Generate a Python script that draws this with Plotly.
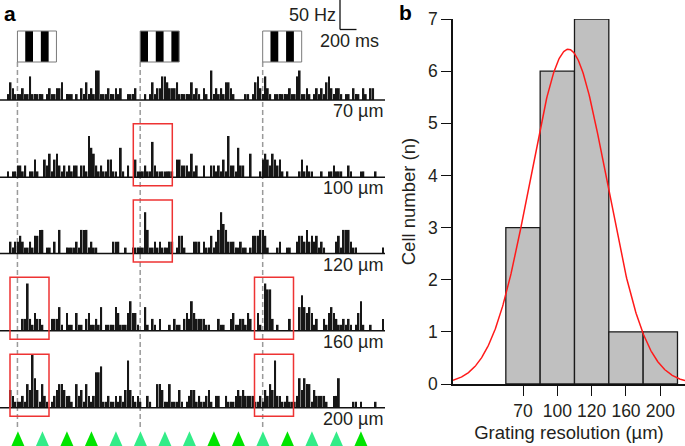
import numpy as np
import plotly.graph_objects as go

W, H = 685, 446

# ---------------- Panel a data: spike counts per time bin (1 count = 10 Hz) ----------------
r70 = [0,0,1,3,2,1,1,1,2,1, 1,4,1,1,1,1,1,0,1,2, 1,1,2,2,3,0,1,1,1,0, 1,0,2,1,3,1,2,1,5,5,
       1,1,1,2,1,1,2,1,2,0, 0,1,1,1,2,0,0,0,1,0, 1,3,1,2,2,4,4,3,2,2, 2,3,1,1,1,1,1,3,1,2,
       1,0,2,1,0,5,1,2,1,2, 1,3,3,2,1,0,0,0,0,1, 1,0,1,3,4,2,1,4,2,1, 0,1,1,1,1,1,1,2,1,1,
       4,5,1,1,2,1,0,1,2,1, 2,1,3,4,2,1,2,2,1,0, 1,1,0,2,1,1,0,2,1,0, 2,2,0,0,0,0,0]
r100 = [0,0,1,0,1,1,2,2,1,2, 0,1,1,3,1,0,0,3,2,4, 1,3,4,2,1,2,1,2,1,2, 2,0,2,2,1,7,5,4,2,1,
        2,1,1,3,3,1,1,0,5,1, 0,2,0,0,3,1,1,1,2,1, 1,6,2,1,1,1,1,1,1,1, 0,3,3,2,2,2,1,4,1,2,
        0,0,2,0,0,2,2,1,2,1, 3,1,7,2,2,1,5,2,2,0, 0,4,0,0,0,1,3,4,3,2, 4,3,2,3,1,0,1,0,0,0,
        0,1,3,1,2,1,1,0,0,0, 1,0,0,1,1,2,1,1,1,0, 0,2,1,0,0,0,1,1,0,0, 0,0,1,0,0,0,0]
r120 = [0,0,0,2,1,2,2,3,2,1, 1,2,1,3,3,4,4,0,1,1, 0,2,0,4,0,0,1,1,1,1, 2,1,4,4,4,1,2,1,1,0,
        0,0,0,0,0,2,2,2,0,0, 1,0,0,1,1,1,1,1,7,4, 1,1,2,1,2,1,1,1,2,2, 0,1,3,3,1,0,0,0,2,2,
        2,0,2,1,1,3,1,2,4,7, 5,4,2,2,2,1,1,2,1,1, 0,1,3,3,3,4,4,3,1,0, 0,0,1,2,0,0,1,1,0,0,
        2,3,3,2,4,2,3,2,3,1, 2,1,0,0,0,0,2,3,1,4, 4,4,2,1,1,0,0,0,0,0, 0,0,0,0,0,1,0]
r160 = [0,0,0,0,0,0,0,0,2,2, 8,2,1,3,2,2,1,0,0,0, 2,2,2,4,1,0,3,1,1,0, 3,1,1,0,2,3,1,1,2,1,
        4,0,1,1,1,1,4,3,1,1, 1,3,5,3,3,1,0,0,4,1, 0,2,1,0,2,0,0,0,1,0, 2,1,1,0,2,3,2,5,3,2,
        2,2,2,1,1,0,0,0,2,1, 1,0,0,2,3,1,1,2,2,1, 3,2,0,0,3,1,0,8,7,7, 2,0,1,0,0,0,0,2,0,0,
        0,4,6,4,3,4,3,1,2,0, 0,2,1,3,4,3,2,1,1,2, 1,2,1,0,1,3,5,1,0,0, 1,0,0,0,0,2,0]
r200 = [0,0,0,3,2,1,1,1,2,1, 4,3,9,5,3,1,4,2,1,0, 1,2,3,4,4,3,2,2,1,0, 4,2,3,1,4,2,1,2,6,6,
        7,1,1,2,1,1,2,1,2,1, 3,8,3,2,1,2,1,0,0,2, 1,0,0,4,4,3,1,1,4,1, 1,1,3,1,0,1,2,3,3,1,
        2,1,1,2,3,1,0,2,2,0, 0,2,1,1,1,2,3,2,3,2, 2,2,2,1,1,2,1,3,2,4, 3,8,2,2,1,1,2,1,1,1,
        2,5,3,5,4,4,1,3,2,2, 2,2,1,0,0,2,2,5,0,0, 0,0,0,1,1,0,1,0,0,0, 0,0,1,0,0,0,0]
rows = [r70, r100, r120, r160, r200]
row_labels = ["70 µm", "100 µm", "120 µm", "160 µm", "200 µm"]
HZ_PER_COUNT = 10

grating_onsets = [5.8, 55.9, 105.9]          # time bins of grating onsets
grating_first_black = [False, True, False]   # stripe phase of each grating icon
flash_times = [6, 16, 26, 36, 46, 56, 66, 76, 86, 96, 106, 116, 126, 136, 146]
flash_bright = [1, 0, 1, 1, 0, 0, 0, 0, 1, 1, 0, 1, 0, 0, 1]

# ---------------- Panel b data ----------------
res_labels = ["70", "100", "120", "160", "200"]
cell_counts = [3, 6, 7, 1, 1]
fit_amp, fit_mu, fit_sigma = 6.42, 2.32, 1.12   # Gaussian fit (bin-index units)

# ---------------- layout helpers (pixels -> paper) ----------------
def px(x):
    return x / W

def py(y):
    return 1 - y / H

BIN_PX = 2.45          # pixel width of one time bin
X0_PX = 3.225          # pixel centre of bin 0
PX_PER_HZ = 0.59
row_base_px = [100, 177.3, 253.5, 330.7, 407.7]
row_base_hz = [(H - b) / PX_PER_HZ for b in row_base_px]

FONT = "Liberation Sans, Arial, Helvetica, sans-serif"
TXT = "#231f20"

fig = go.Figure()

for k, row in enumerate(rows):
    fig.add_trace(go.Bar(
        x=list(range(len(row))), y=[c * HZ_PER_COUNT for c in row], base=row_base_hz[k],
        width=0.72, marker=dict(color="#161616", line=dict(width=0)),
        xaxis="x", yaxis="y", hoverinfo="skip", showlegend=False))

# panel b
xb = list(range(1, len(cell_counts) + 1))
fig.add_trace(go.Bar(
    x=xb, y=cell_counts, width=1, marker=dict(color="#c0c0c0", line=dict(color="#1a1a1a", width=1.3)),
    xaxis="x2", yaxis="y2", hoverinfo="skip", showlegend=False))
xr_lo, xr_hi = -1.039, 5.719
xs = np.linspace(xr_lo, xr_hi, 400)
ys = fit_amp * np.exp(-(xs - fit_mu) ** 2 / (2 * fit_sigma ** 2))
fig.add_trace(go.Scatter(x=xs, y=ys, mode="lines", line=dict(color="#ff1a1a", width=1.5),
                         xaxis="x2", yaxis="y2", hoverinfo="skip", showlegend=False))

shapes = []
annotations = []

# baselines
for b in row_base_hz:
    shapes.append(dict(type="line", xref="paper", yref="y", x0=px(0), x1=px(385), y0=b, y1=b,
                       line=dict(color="#111", width=1.5)))

# dashed onset lines
for t in grating_onsets:
    shapes.append(dict(type="line", xref="x", yref="paper", x0=t, x1=t, y0=py(62), y1=py(430),
                       line=dict(color="#9a9a9a", width=1.5, dash="5px,3px"), layer="below"))

# grating icons
stripe_bins = 7.8 / BIN_PX
for t, fb in zip(grating_onsets, grating_first_black):
    for s in range(5):
        black = (s % 2 == 0) == fb
        if black:
            shapes.append(dict(type="rect", xref="x", yref="paper",
                               x0=t + s * stripe_bins, x1=t + (s + 1) * stripe_bins,
                               y0=py(62), y1=py(31), line=dict(width=0), fillcolor="#000"))
    shapes.append(dict(type="rect", xref="x", yref="paper", x0=t, x1=t + 5 * stripe_bins,
                       y0=py(62), y1=py(31), line=dict(color="#7a7a7a", width=1)))

# red highlight boxes (row index, left px)
red_boxes = [(1, 133.3), (2, 133.3), (3, 10), (3, 254.5), (4, 10), (4, 254.5)]
for ri, left in red_boxes:
    b = row_base_px[ri]
    shapes.append(dict(type="rect", xref="paper", yref="paper", x0=px(left), x1=px(left + 39),
                       y0=py(b + 8.5), y1=py(b - 53.5), line=dict(color="#ee3333", width=1.5)))

# flash triangles
hw = 8.0 / BIN_PX
for t, br in zip(flash_times, flash_bright):
    col = "#00e400" if br else "#33ec88"
    shapes.append(dict(type="path", xref="x", yref="paper",
                       path=f"M {t - hw},{py(449.5)} L {t},{py(431.3)} L {t + hw},{py(449.5)} Z",
                       fillcolor=col, line=dict(width=0)))

# scale bar: 50 Hz vertical, 200 ms horizontal
top_hz = H / PX_PER_HZ
sb_x = px(340)
shapes.append(dict(type="line", xref="paper", yref="y", x0=sb_x, x1=sb_x, y0=top_hz, y1=top_hz - 50,
                   line=dict(color="#111", width=1.3)))
shapes.append(dict(type="line", xref="paper", yref="y", x0=sb_x, x1=px(356.5), y0=top_hz - 50, y1=top_hz - 50,
                   line=dict(color="#111", width=1.3)))
annotations.append(dict(text="50 Hz", xref="paper", yref="paper", x=px(337.5), y=py(15),
                        xanchor="right", yanchor="middle", showarrow=False,
                        font=dict(family=FONT, size=18, color=TXT)))
annotations.append(dict(text="200 ms", xref="paper", yref="paper", x=px(381), y=py(41),
                        xanchor="right", yanchor="middle", showarrow=False,
                        font=dict(family=FONT, size=18, color=TXT)))

# row labels
for lab, b in zip(row_labels, row_base_px):
    annotations.append(dict(text=lab, xref="paper", yref="paper", x=px(384.5), y=py(b + 11),
                            xanchor="right", yanchor="middle", showarrow=False,
                            font=dict(family=FONT, size=18, color=TXT)))

# panel letters
annotations.append(dict(text="<b>a</b>", xref="paper", yref="paper", x=px(2), y=py(0),
                        xanchor="left", yanchor="top", showarrow=False,
                        font=dict(family=FONT, size=21, color="#000")))
annotations.append(dict(text="<b>b</b>", xref="paper", yref="paper", x=px(397), y=py(-1),
                        xanchor="left", yanchor="top", showarrow=False,
                        font=dict(family=FONT, size=21, color="#000")))

r0 = -X0_PX / BIN_PX
fig.update_layout(
    width=W, height=H, margin=dict(l=0, r=0, t=0, b=0),
    paper_bgcolor="white", plot_bgcolor="rgba(0,0,0,0)",
    barmode="overlay", showlegend=False,
    font=dict(family=FONT, color=TXT),
    xaxis=dict(domain=[0, px(390)], range=[r0, r0 + 390 / BIN_PX], visible=False, fixedrange=True),
    yaxis=dict(domain=[0, 1], range=[0, H / PX_PER_HZ], visible=False, fixedrange=True),
    xaxis2=dict(domain=[px(453), 1], range=[xr_lo, xr_hi], anchor="y2",
                tickvals=xb, ticktext=res_labels, ticks="outside", ticklen=10, tickwidth=1.3,
                tickcolor="#111", showline=True, linecolor="#111", linewidth=1.5,
                showgrid=False, zeroline=False, automargin=False,
                tickfont=dict(family=FONT, size=17.5, color=TXT),
                title=dict(text="Grating resolution (µm)", font=dict(family=FONT, size=18.5, color=TXT),
                           standoff=6)),
    yaxis2=dict(domain=[py(384), py(19)], range=[0, 7], anchor="x2",
                tickvals=list(range(8)), ticks="outside", ticklen=10, tickwidth=1.3,
                tickcolor="#111", showline=True, linecolor="#111", linewidth=1.5,
                showgrid=False, zeroline=False, automargin=False,
                tickfont=dict(family=FONT, size=17.5, color=TXT),
                title=dict(text="Cell number (n)", font=dict(family=FONT, size=18.5, color=TXT),
                           standoff=8)),
    shapes=shapes, annotations=annotations,
)

fig.write_html("out.html", config={"displayModeBar": False},
               post_script="document.body.style.margin='0';document.body.style.padding='0';"
                           "document.body.style.overflow='hidden';")
